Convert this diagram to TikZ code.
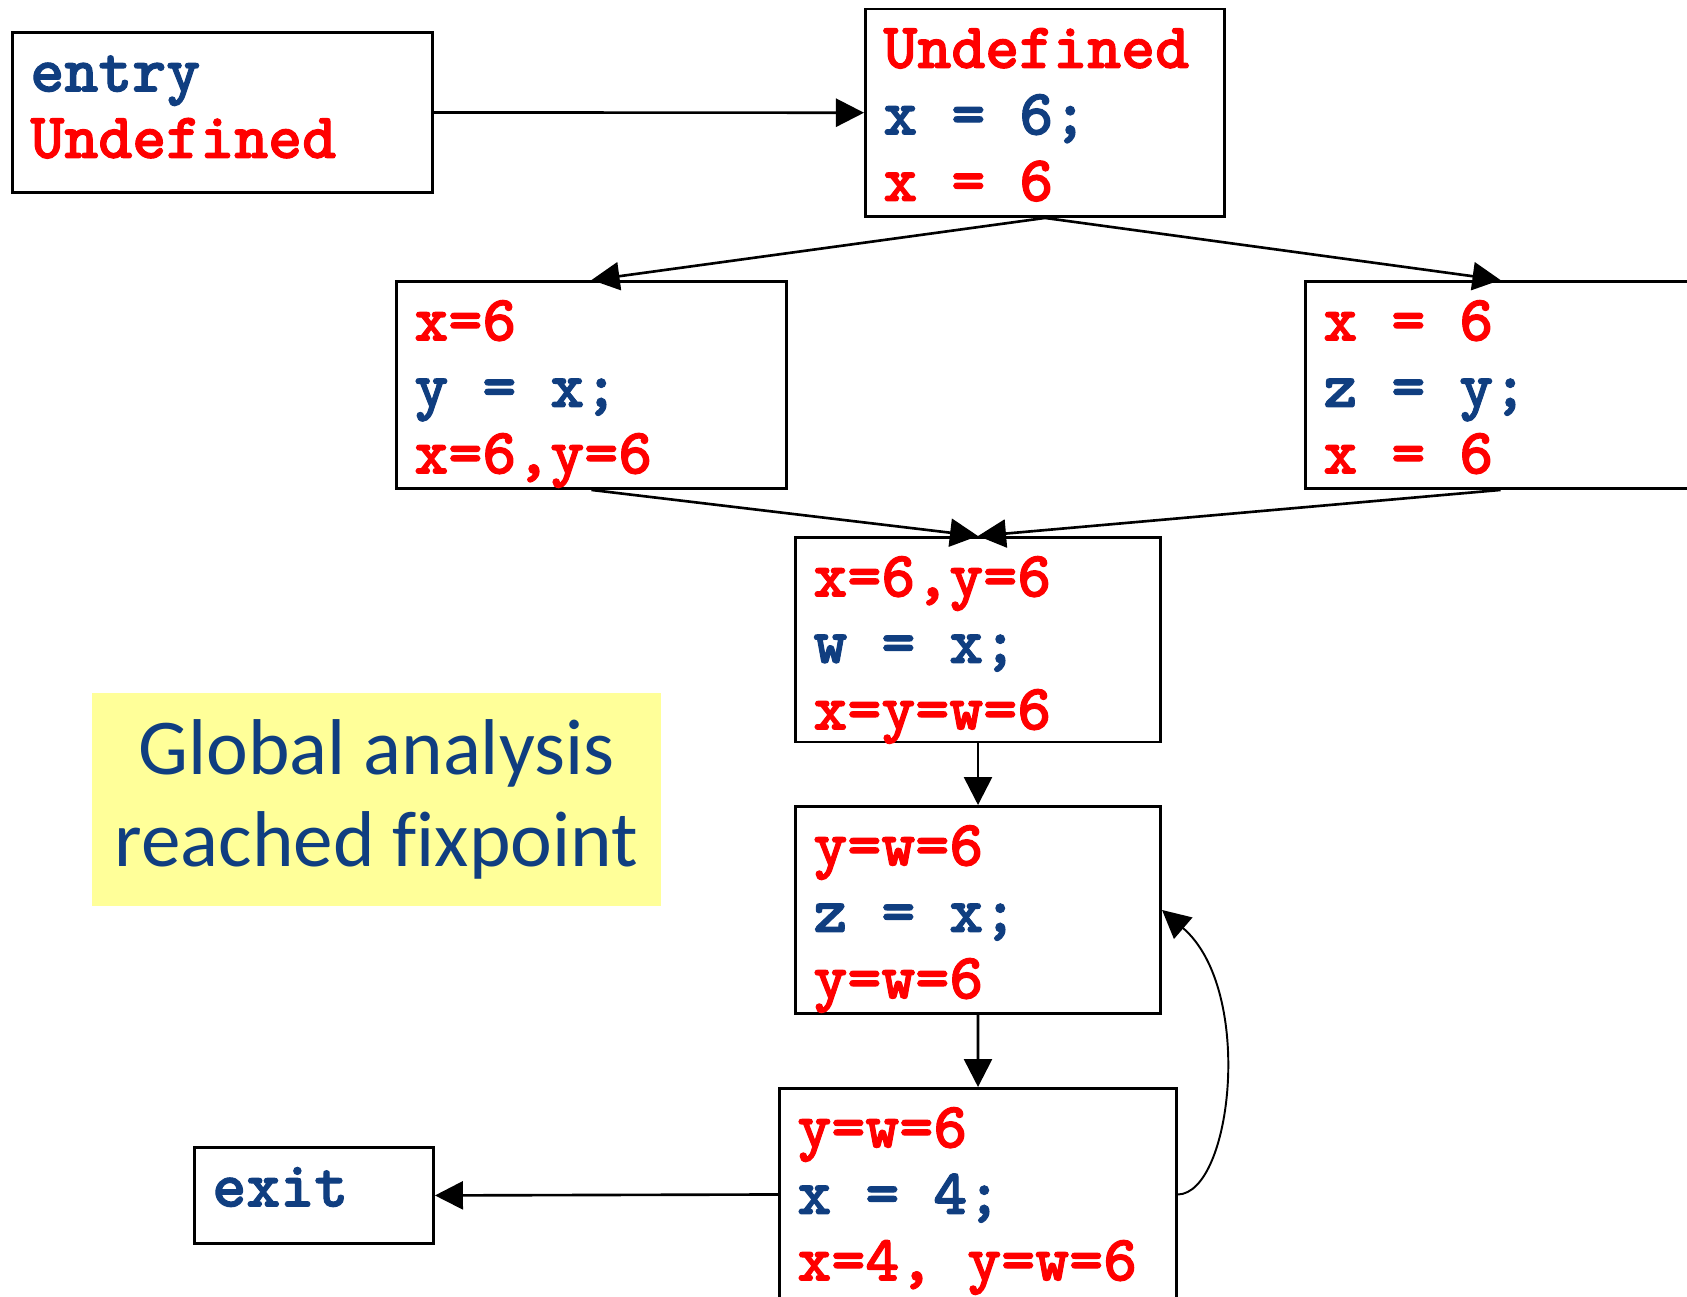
\documentclass[tikz,border=0pt]{standalone}
\usepackage{fontspec}
\newfontfamily\notefont{Carlito}[Ligatures=NoCommon]
\newfontfamily\codefont{lmmonolt10-bold}[Extension=.otf, FakeBold=1.6]
\usetikzlibrary{arrows.meta}
\definecolor{cblue}{RGB}{16,62,128}
\definecolor{noteyellow}{RGB}{255,255,153}
\definecolor{cred}{RGB}{255,0,0}
\newcommand{\rd}[1]{\textcolor{cred}{#1}}
\newcommand{\bl}[1]{\textcolor{cblue}{#1}}
\newcommand{\bx}[3]{\parbox[c][#1][t]{#2}{\raggedright\rule{0pt}{0.59cm}#3}}
\begin{document}
\begin{tikzpicture}[x=0.01cm,y=-0.01cm,
  blk/.style={draw, line width=0.8pt, anchor=north west, inner xsep=0.18cm, inner ysep=0pt,
    font=\codefont\fontsize{18.4}{18.9}\selectfont},
  arr/.style={line width=0.75pt, -{Triangle[length=0.28cm,width=0.28cm]}},
  notebox/.style={fill=noteyellow, anchor=north west, inner sep=0pt, align=center,
    text=cblue, font=\notefont\fontsize{22.5}{26}\selectfont}]
\useasboundingbox (0,0) rectangle (1687,1296);
\node[blk] (entry) at (11,31) {\bx{1.6cm}{3.84cm}{\bl{entry}\\ \rd{Undefined}}};
\node[blk] (top) at (864,7.5) {\bx{2.075cm}{3.23cm}{\rd{Undefined}\\ \bl{x = 6;}\\ \rd{x = 6}}};
\node[blk] (left) at (395,280) {\bx{2.07cm}{3.54cm}{\rd{x=6}\\ \bl{y = x;}\\ \rd{x=6,y=6}}};
\node[blk] (right) at (1304,280) {\bx{2.07cm}{3.54cm}{\rd{x = 6}\\ \bl{z = y;}\\ \rd{x = 6}}};
\node[blk] (w) at (794,536) {\bx{2.045cm}{3.29cm}{\rd{x=6,y=6}\\ \bl{w = x;}\\ \rd{x=y=w=6}}};
\node[blk] (z) at (794,805) {\bx{2.07cm}{3.29cm}{\rd{y=w=6}\\ \bl{z = x;}\\ \rd{y=w=6}}};
\node[blk] (x4) at (778,1087) {\bx{2.12cm}{3.61cm}{\rd{y=w=6}\\ \bl{x = 4;}\\ \rd{x=4, y=w=6}}};
\node[blk] (exit) at (193,1146) {\bx{0.96cm}{2.03cm}{\bl{exit}}};
\node[notebox, minimum width=5.69cm, minimum height=2.13cm] (note) at (91,692) {Global analysis\\ reached fixpoint};
\draw[arr] (entry.east) -- (top.west);
\draw[arr] (top.south) -- (left.north);
\draw[arr] (top.south) -- (right.north);
\draw[arr] (left.south) -- (w.north);
\draw[arr] (right.south) -- (w.north);
\draw[arr] (w.south) -- (z.north);
\draw[arr] (z.south) -- (x4.north);
\draw[arr] (x4.west) -- (exit.east);
\draw[arr, line width=0.55pt] (x4.east) .. controls (1232,1193) and (1255,990) .. (z.east);
\end{tikzpicture}
\end{document}
